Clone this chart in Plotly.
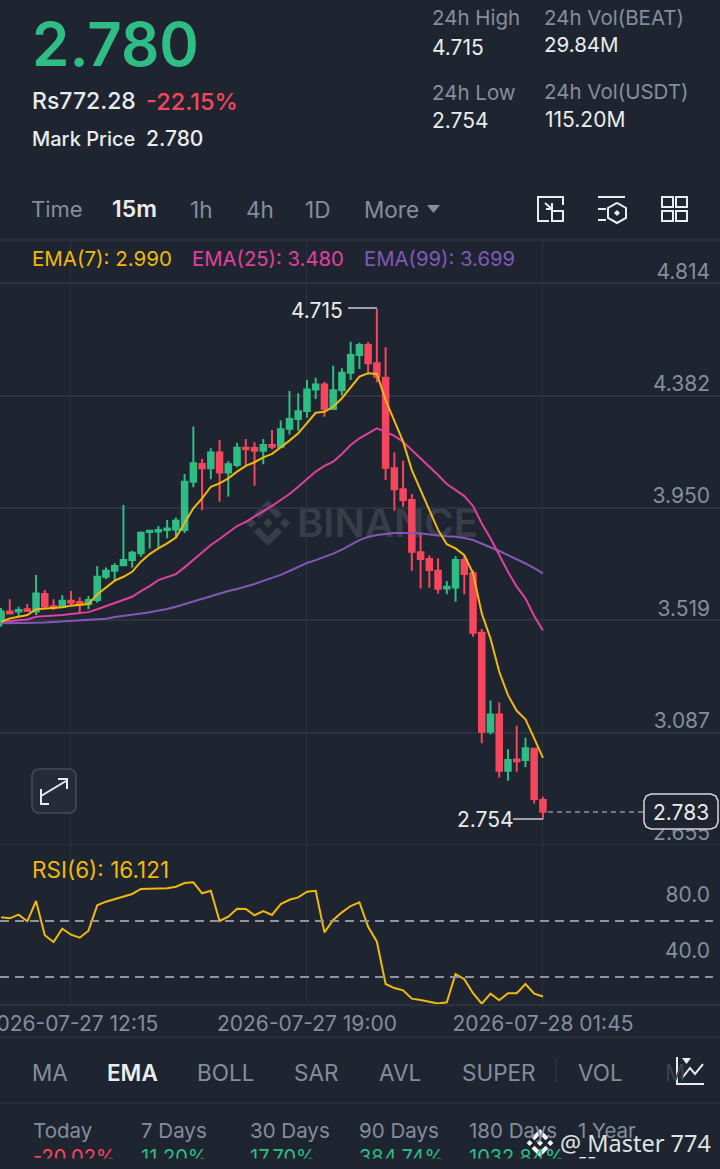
import pandas as pd
import plotly.graph_objects as go

W, H = 720, 1169

BG = "#1F2530"
GRID = "#2B323D"
GREEN = "#2EBD85"
RED = "#F6465D"
YELLOW = "#F0B90B"
PINK = "#E0409F"
PURPLE = "#8158B8"
GREY = "#848E9C"
WHITE = "#EAECEF"

times = pd.date_range("2026-07-27 10:15", periods=63, freq="15min")

opens = [3.513, 3.552, 3.552, 3.561, 3.552, 3.620, 3.573, 3.571, 3.594, 3.589, 3.581,
         3.597, 3.686, 3.709, 3.730, 3.750, 3.776, 3.858, 3.860, 3.866, 3.868, 3.866,
         4.051, 4.119, 4.103, 4.163, 4.087, 4.115, 4.182, 4.181, 4.170, 4.192, 4.186,
         4.255, 4.292, 4.323, 4.406, 4.425, 4.331, 4.403, 4.470, 4.538, 4.577, 4.506,
         4.451, 4.103, 4.022, 3.981, 3.780, 3.754, 3.709, 3.641, 3.645, 3.750, 3.699,
         3.471, 3.090, 3.157, 2.941, 2.984, 2.982, 3.025, 2.828]
highs = [3.566, 3.600, 3.571, 3.581, 3.693, 3.635, 3.600, 3.615, 3.631, 3.607, 3.612,
         3.727, 3.722, 3.738, 3.962, 3.786, 3.860, 3.863, 3.881, 3.904, 3.914, 4.081,
         4.263, 4.138, 4.180, 4.211, 4.131, 4.201, 4.215, 4.203, 4.215, 4.250, 4.286,
         4.400, 4.391, 4.442, 4.451, 4.435, 4.497, 4.487, 4.589, 4.585, 4.587, 4.715,
         4.568, 4.163, 4.132, 4.004, 3.853, 3.769, 3.757, 3.670, 3.766, 3.766, 3.712,
         3.485, 3.210, 3.203, 3.023, 3.113, 3.067, 3.025, 2.841]
lows = [3.494, 3.544, 3.532, 3.552, 3.539, 3.566, 3.558, 3.566, 3.577, 3.547, 3.561,
        3.586, 3.676, 3.667, 3.727, 3.722, 3.763, 3.795, 3.799, 3.834, 3.834, 3.854,
        4.030, 3.942, 4.061, 3.974, 3.994, 4.107, 4.115, 4.036, 4.118, 4.176, 4.183,
        4.233, 4.247, 4.297, 4.369, 4.301, 4.331, 4.382, 4.442, 4.484, 4.470, 4.433,
        4.058, 3.940, 3.955, 3.709, 3.641, 3.644, 3.622, 3.619, 3.590, 3.619, 3.455,
        3.046, 3.080, 2.915, 2.902, 2.937, 2.954, 2.815, 2.754]
closes = [3.552, 3.545, 3.558, 3.554, 3.622, 3.573, 3.567, 3.594, 3.586, 3.581, 3.597,
          3.686, 3.709, 3.727, 3.750, 3.778, 3.855, 3.863, 3.866, 3.871, 3.901, 4.051,
          4.122, 4.103, 4.163, 4.087, 4.118, 4.182, 4.176, 4.170, 4.192, 4.186, 4.253,
          4.292, 4.322, 4.406, 4.425, 4.331, 4.403, 4.470, 4.538, 4.577, 4.506, 4.455,
          4.105, 4.022, 3.981, 3.782, 3.754, 3.712, 3.640, 3.648, 3.750, 3.697, 3.471,
          3.090, 3.157, 2.941, 2.982, 2.977, 3.027, 2.832, 2.783]

ema7 = [3.513, 3.526, 3.532, 3.539, 3.561, 3.563, 3.566, 3.569, 3.575, 3.577, 3.581,
        3.618, 3.645, 3.671, 3.686, 3.705, 3.744, 3.773, 3.795, 3.814, 3.837, 3.891,
        3.949, 3.987, 4.032, 4.045, 4.064, 4.090, 4.112, 4.126, 4.145, 4.158, 4.183,
        4.209, 4.237, 4.278, 4.316, 4.320, 4.339, 4.372, 4.414, 4.455, 4.468, 4.465,
        4.365, 4.282, 4.205, 4.096, 4.019, 3.942, 3.866, 3.811, 3.795, 3.769, 3.699,
        3.545, 3.449, 3.321, 3.231, 3.171, 3.138, 3.065, 2.990]
ema25 = [3.513, 3.516, 3.518, 3.522, 3.532, 3.534, 3.536, 3.539, 3.543, 3.547, 3.550,
         3.561, 3.573, 3.586, 3.597, 3.609, 3.631, 3.650, 3.673, 3.685, 3.696, 3.722,
         3.750, 3.781, 3.808, 3.831, 3.855, 3.881, 3.897, 3.917, 3.936, 3.958, 3.981,
         4.004, 4.032, 4.062, 4.090, 4.112, 4.128, 4.158, 4.192, 4.218, 4.237, 4.256,
         4.243, 4.227, 4.205, 4.173, 4.143, 4.112, 4.077, 4.042, 4.019, 3.996, 3.958,
         3.891, 3.834, 3.769, 3.705, 3.648, 3.603, 3.535, 3.480]
ema99 = [3.507, 3.507, 3.507, 3.508, 3.509, 3.510, 3.512, 3.513, 3.516, 3.517, 3.520,
         3.522, 3.525, 3.531, 3.535, 3.539, 3.545, 3.550, 3.556, 3.562, 3.571, 3.581,
         3.590, 3.600, 3.612, 3.620, 3.631, 3.639, 3.648, 3.658, 3.670, 3.681, 3.693,
         3.708, 3.725, 3.739, 3.750, 3.762, 3.775, 3.790, 3.808, 3.827, 3.839, 3.846,
         3.850, 3.854, 3.854, 3.854, 3.853, 3.848, 3.844, 3.842, 3.840, 3.835, 3.827,
         3.814, 3.799, 3.785, 3.769, 3.754, 3.737, 3.719, 3.699]
rsi6 = [72.6, 71.9, 74.5, 69.8, 84.3, 59.8, 55.0, 64.5, 60.2, 58.1, 63.1,
        81.2, 83.8, 85.5, 87.4, 89.3, 92.9, 92.9, 92.9, 93.4, 94.5, 97.1,
        97.6, 89.8, 91.6, 70.0, 73.1, 78.8, 78.6, 74.1, 77.1, 74.3, 82.1,
        85.2, 86.9, 90.9, 91.6, 61.9, 70.7, 76.2, 80.7, 83.4, 65.9, 55.2,
        25.0, 22.1, 20.5, 14.5, 13.6, 12.4, 11.0, 11.9, 32.1, 28.4, 18.4,
        10.9, 18.1, 13.4, 18.4, 18.4, 25.0, 18.1, 16.1]

price_ticks = [2.655, 3.087, 3.519, 3.950, 4.382, 4.814]
price_labels = ["2.655", "3.087", "3.519", "3.950", "4.382", "4.814"]
rsi_ticks = [40, 80]
rsi_labels = ["40.0", "80.0"]
time_ticks = ["2026-07-27 12:15", "2026-07-27 19:00", "2026-07-28 01:45"]
time_labels = ["2026-07-27 12:15", "2026-07-27 19:00", "2026-07-28 01:45"]

period_names = ["Today", "7 Days", "30 Days", "90 Days", "180 Days", "1 Year"]
period_values = ["-20.02%", "11.20%", "17.70%", "384.74%", "1032.84%", "--"]


def px(x):
    return x / W


def py(y):
    return 1 - y / H


def txt(x, y, s, size, color, weight=400, font="Inter"):
    return dict(
        x=px(x), y=py(y), xref="paper", yref="paper", text=s, showarrow=False,
        xanchor="left", yanchor="middle", borderpad=0, borderwidth=0,
        font=dict(family=font, size=size, color=color, weight=weight),
    )


def path(points, closed=False):
    d = "M " + " L ".join(f"{px(a):.5f},{py(b):.5f}" for a, b in points)
    return d + (" Z" if closed else "")


def line(points, color=WHITE, width=2, layer="above", dash="solid"):
    return dict(type="path", path=path(points), xref="paper", yref="paper", layer=layer,
                line=dict(color=color, width=width, dash=dash))


def fill(points, color, layer="above"):
    return dict(type="path", path=path(points, True), xref="paper", yref="paper", layer=layer,
                fillcolor=color, line=dict(width=0))


def rect(x0, y0, x1, y1, color=WHITE, width=2, fillcolor=None):
    return dict(type="rect", x0=px(x0), x1=px(x1), y0=py(y0), y1=py(y1), xref="paper", yref="paper",
                line=dict(color=color, width=width), fillcolor=fillcolor or "rgba(0,0,0,0)")


def round_box(x0, y0, x1, y1, r, fillcolor, color, width=1.5):
    pts = [(x0 + r, y0), (x1 - r, y0), (x1 - r * 0.3, y0 + r * 0.3), (x1, y0 + r), (x1, y1 - r),
           (x1 - r * 0.3, y1 - r * 0.3), (x1 - r, y1), (x0 + r, y1), (x0 + r * 0.3, y1 - r * 0.3),
           (x0, y1 - r), (x0, y0 + r), (x0 + r * 0.3, y0 + r * 0.3)]
    return dict(type="path", path=path(pts, True), xref="paper", yref="paper", layer="above",
                fillcolor=fillcolor, line=dict(color=color, width=width))


def logo(cx, cy, r, color, layer):
    # small diamonds plus the two chevrons of the exchange mark
    k = r / 23
    out = []
    for dx, dy, s in [(0, 0, 5), (-17, 0, 5), (17, 0, 5)]:
        c = (cx + dx * k, cy + dy * k)
        s *= k
        out.append(fill([(c[0], c[1] - s), (c[0] + s, c[1]), (c[0], c[1] + s), (c[0] - s, c[1])], color, layer))
    for sign in (-1, 1):
        out.append(fill([(cx, cy + sign * 23 * k), (cx + 14 * k, cy + sign * 9 * k), (cx + 9 * k, cy + sign * 4.5 * k),
                         (cx, cy + sign * 13.5 * k), (cx - 9 * k, cy + sign * 4.5 * k), (cx - 14 * k, cy + sign * 9 * k)],
                        color, layer))
    return out


fig = go.Figure()

fig.add_trace(go.Candlestick(
    x=times, open=opens, high=highs, low=lows, close=closes,
    increasing=dict(line=dict(color=GREEN, width=2), fillcolor=GREEN),
    decreasing=dict(line=dict(color=RED, width=2), fillcolor=RED),
    whiskerwidth=0, hoverinfo="skip", xaxis="x", yaxis="y",
))
for values, color in [(ema99, PURPLE), (ema25, PINK), (ema7, YELLOW)]:
    fig.add_trace(go.Scatter(x=times, y=values, mode="lines", line=dict(color=color, width=2),
                             hoverinfo="skip", xaxis="x", yaxis="y"))
fig.add_trace(go.Scatter(x=times, y=rsi6, mode="lines", line=dict(color=YELLOW, width=2),
                         hoverinfo="skip", xaxis="x2", yaxis="y2"))

annotations = [
    txt(32, 44, "2.780", 60, GREEN, 600),
    txt(32, 101, "Rs772.28", 23, WHITE, 500),
    txt(146, 101, "-22.15%", 23.5, RED, 500),
    txt(32, 139, "Mark Price", 20, WHITE, 500),
    txt(146, 139, "2.780", 21, WHITE, 500),
    txt(432, 18, "24h High", 20.5, GREY),
    txt(432, 47, "4.715", 21, WHITE),
    txt(432, 92, "24h Low", 20.5, GREY),
    txt(432, 121, "2.754", 21, WHITE),
    txt(544, 17, "24h Vol(BEAT)", 20.5, GREY),
    txt(544, 45, "29.84M", 20.5, WHITE),
    txt(544, 91, "24h Vol(USDT)", 20.5, GREY),
    txt(545, 119, "115.20M", 21, WHITE),
    txt(31, 209, "Time", 22, GREY),
    txt(112, 209, "15m", 23, WHITE, 600),
    txt(190, 209, "1h", 22.5, GREY),
    txt(246, 209, "4h", 22.5, GREY),
    txt(305, 209, "1D", 22.5, GREY),
    txt(364, 209, "More", 22.5, GREY),
    txt(32, 259, "EMA(7): 2.990", 20.5, YELLOW),
    txt(192, 259, "EMA(25): 3.480", 20.3, PINK),
    txt(364, 259, "EMA(99): 3.699", 20.3, PURPLE),
    txt(291, 310, "4.715", 21, WHITE),
    txt(457, 820, "2.754", 21, WHITE),
    txt(653, 812, "2.783", 21, WHITE),
    txt(32, 869, "RSI(6): 16.121", 22.5, YELLOW),
    txt(32, 1072, "MA", 22.5, GREY),
    txt(107, 1072, "EMA", 22.5, WHITE, 600),
    txt(197, 1072, "BOLL", 22.5, GREY),
    txt(294, 1072, "SAR", 22.5, GREY),
    txt(379, 1072, "AVL", 22.5, GREY),
    txt(462, 1072, "SUPER", 22.5, GREY),
    txt(578, 1072, "VOL", 22.5, GREY),
    txt(665, 1072, "M", 22.5, "#3A424E"),
]
for name, value, x in zip(period_names, period_values, [33, 141, 250, 359, 469, 578]):
    annotations.append(txt(x, 1130, name, 20.5, GREY))
    color = RED if value.startswith("-2") else WHITE if value == "--" else GREEN
    annotations.append(txt(x, 1157, value, 20, color))
annotations.append(txt(560, 1143, "@ Master 774", 23.5, "#DFE1E4", font="Noto Sans"))
# the capture cuts the last row of the page off
annotations.append(dict(x=px(360), y=py(1166), xref="paper", yref="paper", text=" ", showarrow=False,
                        width=720, height=6, bgcolor=BG, borderpad=0))

shapes = [
    # divider rows
    rect(0, 240, 720, 240, GRID, 1.5),
    rect(0, 1037, 720, 1037, GRID, 1.5),
    rect(0, 1103, 720, 1103, GRID, 1.5),
    line([(556, 1058), (556, 1083)], GRID, 1.5),
    # watermark
    dict(type="rect", x0=px(291), x1=px(490), y0=py(499), y1=py(544), xref="paper", yref="paper",
         layer="below", line=dict(width=0),
         label=dict(text="BINANCE", textposition="middle left",
                    font=dict(family="Inter", size=40, color="#383E49", weight=600))),
    # high and low leaders
    line([(348, 308), (377, 308)], "#C8CBD0", 1.5),
    line([(513, 819), (543, 819)], "#C8CBD0", 1.5),
    line([(548, 812), (644, 812)], "#8F949C", 1.5, dash="5px,4px"),
    # RSI guide levels
    dict(type="line", x0=0, x1=px(713), y0=70, y1=70, xref="paper", yref="y2", layer="above",
         line=dict(color="#8F949C", width=2, dash="9px,6px")),
    dict(type="line", x0=0, x1=px(713), y0=30, y1=30, xref="paper", yref="y2", layer="above",
         line=dict(color="#8F949C", width=2, dash="9px,6px")),
    # last price box
    round_box(644, 794, 718, 829, 7, BG, "#D5D7DA"),
    # fullscreen button
    round_box(32, 769, 76, 813, 6, "#262C37", "#454C58", 1.5),
    line([(41, 796), (66, 781)], WHITE, 2),
    line([(41, 789), (41, 804), (49, 804)], WHITE, 2),
    line([(58, 779), (67, 779), (67, 789)], WHITE, 2),
    # toolbar icons
    fill([(427, 205), (440, 205), (433.5, 213)], GREY),
    line([(549, 197), (538, 197), (538, 221), (549, 221)], WHITE, 2),
    line([(549, 197), (563, 197), (563, 205)], WHITE, 2),
    rect(552, 211, 563, 221),
    line([(545, 203), (552, 209)], WHITE, 2),
    line([(552, 203), (552, 209), (546, 209)], WHITE, 2),
    line([(598, 197), (625, 197)], WHITE, 2),
    line([(598, 209), (606, 209)], WHITE, 2),
    line([(598, 220), (606, 220)], WHITE, 2),
    line([(617, 203), (626, 208), (626, 218), (617, 223), (608, 218), (608, 208), (617, 203)], WHITE, 2),
    fill([(617, 210), (620, 213), (617, 216), (614, 213)], WHITE),
    rect(662, 197, 673, 207),
    rect(676, 197, 687, 207),
    rect(662, 211, 673, 221),
    rect(676, 211, 687, 221),
    # chart type icon
    line([(677, 1057), (677, 1084), (704, 1084)], WHITE, 2),
    line([(682, 1078), (690, 1068), (695, 1074), (703, 1064)], WHITE, 2),
    fill([(682, 1058), (691, 1058), (686.5, 1064)], WHITE),
]
shapes += logo(268, 523, 23, "#383E49", "below")
shapes += logo(540, 1143, 14, "#F5F5F5", "above")

x_range = ["2026-07-27 10:13:09", "2026-07-28 06:48:54"]

fig.update_layout(
    width=W, height=H, margin=dict(l=0, r=0, t=0, b=0, autoexpand=False),
    paper_bgcolor=BG, plot_bgcolor=BG, showlegend=False, hovermode=False,
    font=dict(family="Inter", color=GREY),
    boxgap=0.1,
    annotations=annotations, shapes=shapes,
    xaxis=dict(domain=[0, 1], anchor="y", range=x_range, type="date", rangeslider=dict(visible=False),
               tickmode="array", tickvals=time_ticks, showticklabels=False, ticks="",
               showgrid=True, gridcolor=GRID, gridwidth=1, zeroline=False, showline=False),
    # the price panel runs a little past 2.655 so that the lowest tick label is kept
    yaxis=dict(domain=[py(850), py(240)], anchor="x", range=[2.636, 4.980], side="right",
               tickmode="array", tickvals=price_ticks, ticktext=price_labels, ticks="",
               ticklabelposition="inside", ticklabelshift=-12, ticklabelstandoff=7,
               tickfont=dict(family="Inter", size=21, color=GREY),
               showgrid=True, gridcolor=GRID, gridwidth=1.5, zeroline=False, showline=False),
    xaxis2=dict(domain=[0, 1], anchor="y2", range=x_range, type="date",
                tickmode="array", tickvals=time_ticks, ticktext=time_labels, ticks="",
                ticklabeloverflow="allow", ticklabelstandoff=0,
                tickfont=dict(family="Inter", size=21, color=GREY),
                showgrid=True, gridcolor=GRID, gridwidth=1, zeroline=False,
                showline=True, linecolor=GRID, linewidth=1.5),
    yaxis2=dict(domain=[py(1004), py(845)], anchor="x2", range=[10.7, 124.3], side="right",
                tickmode="array", tickvals=rsi_ticks, ticktext=rsi_labels, ticks="",
                ticklabelposition="inside", ticklabelshift=-12, ticklabelstandoff=7,
                tickfont=dict(family="Inter", size=21, color=GREY),
                showgrid=False, zeroline=False, showline=False),
)

fig.write_html("out.html", config=dict(displayModeBar=False), post_script="document.body.style.margin = '0';")
